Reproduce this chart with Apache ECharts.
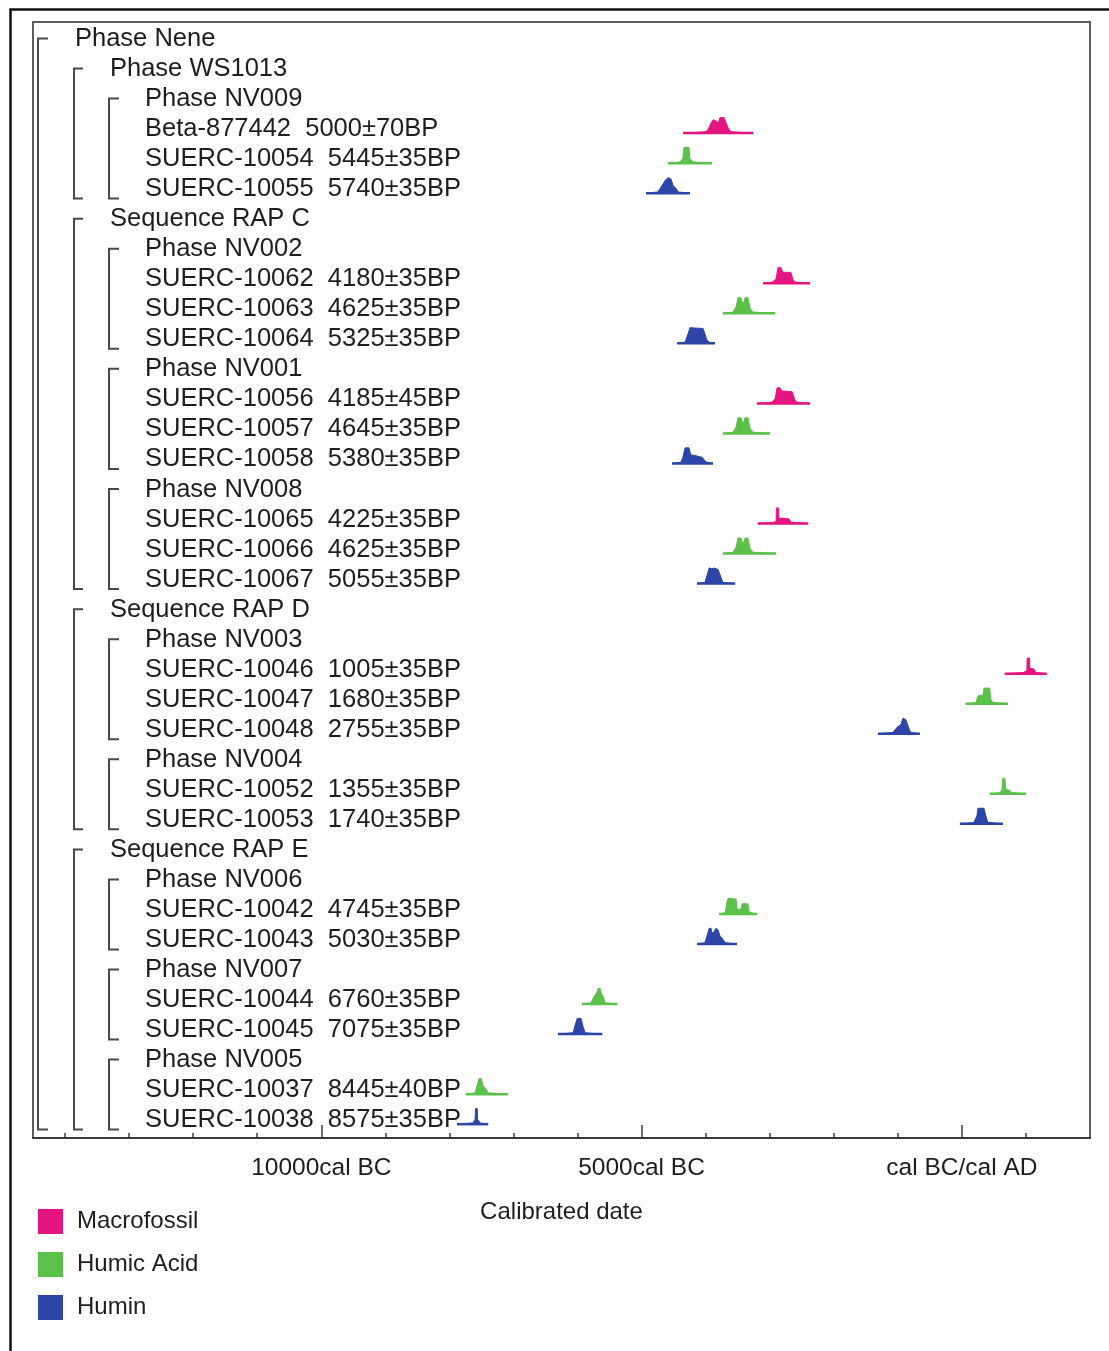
<!DOCTYPE html>
<html>
<head>
<meta charset="utf-8">
<script src="https://cdn.jsdelivr.net/npm/echarts@6/dist/echarts.min.js"></script>
<style>
html,body{margin:0;padding:0;background:#fff;}
#chart{width:1109px;height:1351px;}
</style>
</head>
<body>
<div id="chart"></div>
<script>
// ---- Row labels (top to bottom) and their nesting level ----
const rowLabels = [
  'Phase Nene',
  'Phase WS1013',
  'Phase NV009',
  'Beta-877442  5000\u00b170BP',
  'SUERC-10054  5445\u00b135BP',
  'SUERC-10055  5740\u00b135BP',
  'Sequence RAP C',
  'Phase NV002',
  'SUERC-10062  4180\u00b135BP',
  'SUERC-10063  4625\u00b135BP',
  'SUERC-10064  5325\u00b135BP',
  'Phase NV001',
  'SUERC-10056  4185\u00b145BP',
  'SUERC-10057  4645\u00b135BP',
  'SUERC-10058  5380\u00b135BP',
  'Phase NV008',
  'SUERC-10065  4225\u00b135BP',
  'SUERC-10066  4625\u00b135BP',
  'SUERC-10067  5055\u00b135BP',
  'Sequence RAP D',
  'Phase NV003',
  'SUERC-10046  1005\u00b135BP',
  'SUERC-10047  1680\u00b135BP',
  'SUERC-10048  2755\u00b135BP',
  'Phase NV004',
  'SUERC-10052  1355\u00b135BP',
  'SUERC-10053  1740\u00b135BP',
  'Sequence RAP E',
  'Phase NV006',
  'SUERC-10042  4745\u00b135BP',
  'SUERC-10043  5030\u00b135BP',
  'Phase NV007',
  'SUERC-10044  6760\u00b135BP',
  'SUERC-10045  7075\u00b135BP',
  'Phase NV005',
  'SUERC-10037  8445\u00b140BP',
  'SUERC-10038  8575\u00b135BP'
];
const rowLevels = [0,1,2,2,2,2,1,2,2,2,2,2,2,2,2,2,2,2,2,1,2,2,2,2,2,2,2,1,2,2,2,2,2,2,2,2,2];

// ---- Brackets: [level, firstRow, lastRow] ----
const brackets = [
  [0,0,36],
  [1,1,5],[1,6,18],[1,19,26],[1,27,36],
  [2,2,5],[2,7,10],[2,11,14],[2,15,18],[2,20,23],[2,24,26],[2,28,30],[2,31,33],[2,34,36]
];

// ---- Axis ticks (calendar years, BC negative) ----
const minorTickYears = [-14000,-13000,-12000,-11000,-10000,-9000,-8000,-7000,-6000,-5000,-4000,-3000,-2000,-1000,0,1000];
const majorTickYears = [-10000,-5000,0];
const majorTickLabels = ['10000cal BC','5000cal BC','cal BC/cal AD'];

// ---- Calibrated distributions: [calendar year, relative probability] ----
const d_beta877442 = [[-4350,0],[-4010,0.08],[-3965,0.2],[-3915,0.65],[-3885,0.85],[-3840,0.8],[-3805,0.65],[-3775,1],[-3715,1],[-3680,0.65],[-3635,0.2],[-3590,0.08],[-3260,0]];
const d_10054 = [[-4585,0],[-4400,0.08],[-4355,0.3],[-4340,1],[-4260,1],[-4245,0.3],[-4195,0.08],[-3900,0]];
const d_10055 = [[-4930,0],[-4745,0.08],[-4695,0.4],[-4635,0.8],[-4585,1],[-4540,0.9],[-4510,0.5],[-4460,0.3],[-4430,0.08],[-4245,0]];
const d_10062 = [[-3105,0],[-2950,0.08],[-2900,0.3],[-2870,1],[-2825,1],[-2795,0.7],[-2670,0.7],[-2635,0.2],[-2605,0.08],[-2370,0]];
const d_10063 = [[-3730,0],[-3575,0.08],[-3525,0.4],[-3495,1],[-3450,1],[-3415,0.55],[-3385,1],[-3340,1],[-3305,0.3],[-3260,0.08],[-2915,0]];
const d_10064 = [[-4445,0],[-4320,0.08],[-4275,0.6],[-4245,1],[-4040,0.95],[-4010,0.6],[-3980,0.2],[-3945,0.08],[-3855,0]];
const d_10056 = [[-3200,0],[-2965,0.08],[-2915,0.3],[-2885,1],[-2840,1],[-2810,0.8],[-2650,0.75],[-2605,0.2],[-2575,0.08],[-2370,0]];
const d_10057 = [[-3730,0],[-3575,0.08],[-3525,0.4],[-3495,1],[-3450,1],[-3415,0.6],[-3385,1],[-3340,1],[-3305,0.3],[-3260,0.08],[-2995,0]];
const d_10058 = [[-4525,0],[-4385,0.08],[-4355,0.4],[-4320,1],[-4260,1],[-4230,0.55],[-4150,0.5],[-4120,0.45],[-4055,0.4],[-4010,0.15],[-3980,0.08],[-3885,0]];
const d_10065 = [[-3185,0],[-2935,0.08],[-2900,0.15],[-2895,1],[-2865,1],[-2855,0.35],[-2700,0.3],[-2670,0.1],[-2635,0.08],[-2400,0]];
const d_10066 = [[-3730,0],[-3575,0.08],[-3525,0.4],[-3495,1],[-3450,1],[-3415,0.6],[-3385,1],[-3340,1],[-3305,0.3],[-3260,0.08],[-2900,0]];
const d_10067 = [[-4135,0],[-4010,0.08],[-3980,0.5],[-3945,1],[-3900,0.95],[-3870,1],[-3805,0.9],[-3760,0.4],[-3730,0.08],[-3540,0]];
const d_10046 = [[670,0],[965,0.08],[1015,0.2],[1020,1],[1055,1],[1060,0.35],[1125,0.3],[1155,0.08],[1325,0]];
const d_10047 = [[60,0],[220,0.08],[250,0.5],[330,0.55],[345,1],[435,1],[450,0.3],[485,0.08],[720,0]];
const d_10048 = [[-1310,0],[-1075,0.08],[-1015,0.4],[-950,0.6],[-920,1],[-875,0.9],[-840,0.5],[-810,0.15],[-780,0.08],[-655,0]];
const d_10052 = [[435,0],[595,0.08],[625,0.25],[640,1],[670,1],[685,0.3],[750,0.2],[780,0.08],[1000,0]];
const d_10053 = [[-30,0],[185,0.08],[235,0.5],[250,1],[345,1],[375,0.5],[405,0.1],[640,0]];
const d_10042 = [[-3790,0],[-3695,0.08],[-3665,0.8],[-3650,1],[-3525,0.95],[-3510,0.3],[-3450,0.3],[-3430,0.65],[-3340,0.65],[-3325,0.15],[-3290,0.08],[-3200,0]];
const d_10043 = [[-4135,0],[-4010,0.08],[-3980,0.5],[-3945,1],[-3915,1],[-3900,0.7],[-3870,0.75],[-3840,1],[-3805,0.9],[-3775,0.5],[-3730,0.3],[-3695,0.08],[-3510,0]];
const d_10044 = [[-5930,0],[-5790,0.08],[-5740,0.5],[-5695,0.75],[-5680,1],[-5645,1],[-5630,0.7],[-5600,0.5],[-5570,0.08],[-5380,0]];
const d_10045 = [[-6305,0],[-6070,0.08],[-6035,0.6],[-6005,1],[-5945,1],[-5915,0.5],[-5880,0.08],[-5615,0]];
const d_10037 = [[-7740,0],[-7600,0.08],[-7565,0.6],[-7535,1],[-7505,1],[-7475,0.55],[-7425,0.3],[-7395,0.08],[-7085,0]];
const d_10038 = [[-7880,0],[-7630,0.08],[-7600,0.3],[-7590,1],[-7565,1],[-7560,0.3],[-7520,0.08],[-7395,0]];

// ---- Samples grouped by material: rows and distributions ----
const macroRows = [3,8,12,16,21];
const macroDists = [d_beta877442,d_10062,d_10056,d_10065,d_10046];
const humicRows = [4,9,13,17,22,25,29,32,35];
const humicDists = [d_10054,d_10063,d_10057,d_10066,d_10047,d_10052,d_10042,d_10044,d_10037];
const huminRows = [5,10,14,18,23,26,30,33,36];
const huminDists = [d_10055,d_10064,d_10058,d_10067,d_10048,d_10053,d_10043,d_10045,d_10038];

const materialNames = ['Macrofossil','Humic Acid','Humin'];
const materialColors = ['#e5157f','#5cc14a','#2c45a6'];

const FONT = '"Liberation Sans", Arial, sans-serif';
const X_MIN = -14500, X_MAX = 2000;
const BASE = 0.2, PEAK = 0.52;   // baseline offset & peak height in row units
const TEXT_INDENT = [42, 77, 112];
const BRACKET_X = [5, 41, 76];
const BRACKET_W = [10, 9, 10];

function distSeries(name, color, rows, dists) {
  return {
    name: name,
    type: 'custom',
    itemStyle: { color: color },
    silent: true,
    data: rows.map((r, i) => [r, dists[i][0][0], dists[i][dists[i].length - 1][0]]),
    encode: { y: 0, x: [1, 2] },
    renderItem: function (params, api) {
      const row = api.value(0);
      const dist = dists[params.dataIndex];
      const pts = dist.map(p => api.coord([p[0], row + BASE - p[1] * PEAK]));
      const b0 = api.coord([dist[0][0], row + BASE]);
      const b1 = api.coord([dist[dist.length - 1][0], row + BASE]);
      return {
        type: 'group',
        children: [
          { type: 'polygon', shape: { points: pts }, style: { fill: color, stroke: color, lineWidth: 1 } },
          { type: 'line', shape: { x1: b0[0], y1: b0[1], x2: b1[0], y2: b1[1] }, style: { stroke: color, lineWidth: 2.5 } }
        ]
      };
    }
  };
}

const chart = echarts.init(document.getElementById('chart'), null, { renderer: 'canvas' });
const option = {
  backgroundColor: '#ffffff',
  animation: false,
  textStyle: { fontFamily: FONT },
  grid: { left: 33, right: 19, top: 22, bottom: 213, show: true, borderColor: '#5e5e5e', borderWidth: 2, backgroundColor: 'transparent' },
  graphic: [
    { type: 'rect', left: 8, top: 7, shape: { width: 1200, height: 1400 }, style: { fill: 'none', stroke: '#111', lineWidth: 2.5 }, silent: true, z: 100 }
  ],
  legend: {
    data: materialNames,
    orient: 'vertical',
    left: 38, top: 1209,
    padding: 0,
    icon: 'rect',
    itemWidth: 25, itemHeight: 25, itemGap: 18,
    textStyle: { fontSize: 24, color: '#1e1e1e', fontFamily: FONT, padding: [3, 0, 0, 9] },
    selectedMode: false
  },
  xAxis: [
    {
      type: 'value', min: X_MIN, max: X_MAX, position: 'bottom',
      axisLine: { show: true, onZero: false, lineStyle: { color: '#3a3a3a', width: 2 } },
      axisTick: { show: true, inside: true, length: 5, customValues: minorTickYears, lineStyle: { color: '#3a3a3a', width: 1.5 } },
      axisLabel: { show: false },
      splitLine: { show: false },
      name: 'Calibrated date', nameLocation: 'middle', nameGap: 62,
      nameTextStyle: { fontSize: 24, color: '#1e1e1e', fontFamily: FONT }
    },
    {
      type: 'value', min: X_MIN, max: X_MAX, position: 'bottom',
      axisLine: { show: false, onZero: false },
      axisTick: { show: true, inside: true, length: 13, customValues: majorTickYears, lineStyle: { color: '#3a3a3a', width: 1.5 } },
      axisLabel: {
        show: true, customValues: majorTickYears, margin: 18, fontSize: 24.5, color: '#1e1e1e', fontFamily: FONT,
        formatter: function (v) { return majorTickLabels[majorTickYears.indexOf(v)] || ''; }
      },
      splitLine: { show: false }
    }
  ],
  yAxis: { type: 'value', min: -0.5, max: 36.66, inverse: true, show: false, splitLine: { show: false } },
  series: [
    {
      name: 'brackets', type: 'custom', silent: true,
      data: brackets,
      encode: { y: [1, 2] },
      renderItem: function (params, api) {
        const lvl = api.value(0);
        const top = api.coord([X_MIN, api.value(1) + 0.05]);
        const bot = api.coord([X_MIN, api.value(2) + 0.38]);
        const x = top[0] + BRACKET_X[lvl];
        const w = BRACKET_W[lvl];
        return {
          type: 'polyline',
          shape: { points: [[x + w, top[1]], [x, top[1]], [x, bot[1]], [x + w, bot[1]]] },
          style: { stroke: '#4a4a4a', lineWidth: 2, fill: null }
        };
      }
    },
    {
      name: 'labels', type: 'custom', silent: true,
      data: rowLabels.map((t, i) => [i]),
      encode: { y: 0 },
      renderItem: function (params, api) {
        const i = params.dataIndex;
        const p = api.coord([X_MIN, api.value(0)]);
        return {
          type: 'text',
          style: {
            text: rowLabels[i], x: p[0] + TEXT_INDENT[rowLevels[i]], y: p[1] + 2,
            verticalAlign: 'middle', align: 'left',
            fontSize: 25.5, fontFamily: FONT, fill: '#1e1e1e'
          }
        };
      }
    },
    distSeries(materialNames[0], materialColors[0], macroRows, macroDists),
    distSeries(materialNames[1], materialColors[1], humicRows, humicDists),
    distSeries(materialNames[2], materialColors[2], huminRows, huminDists)
  ]
};
chart.setOption(option);
</script>
</body>
</html>
